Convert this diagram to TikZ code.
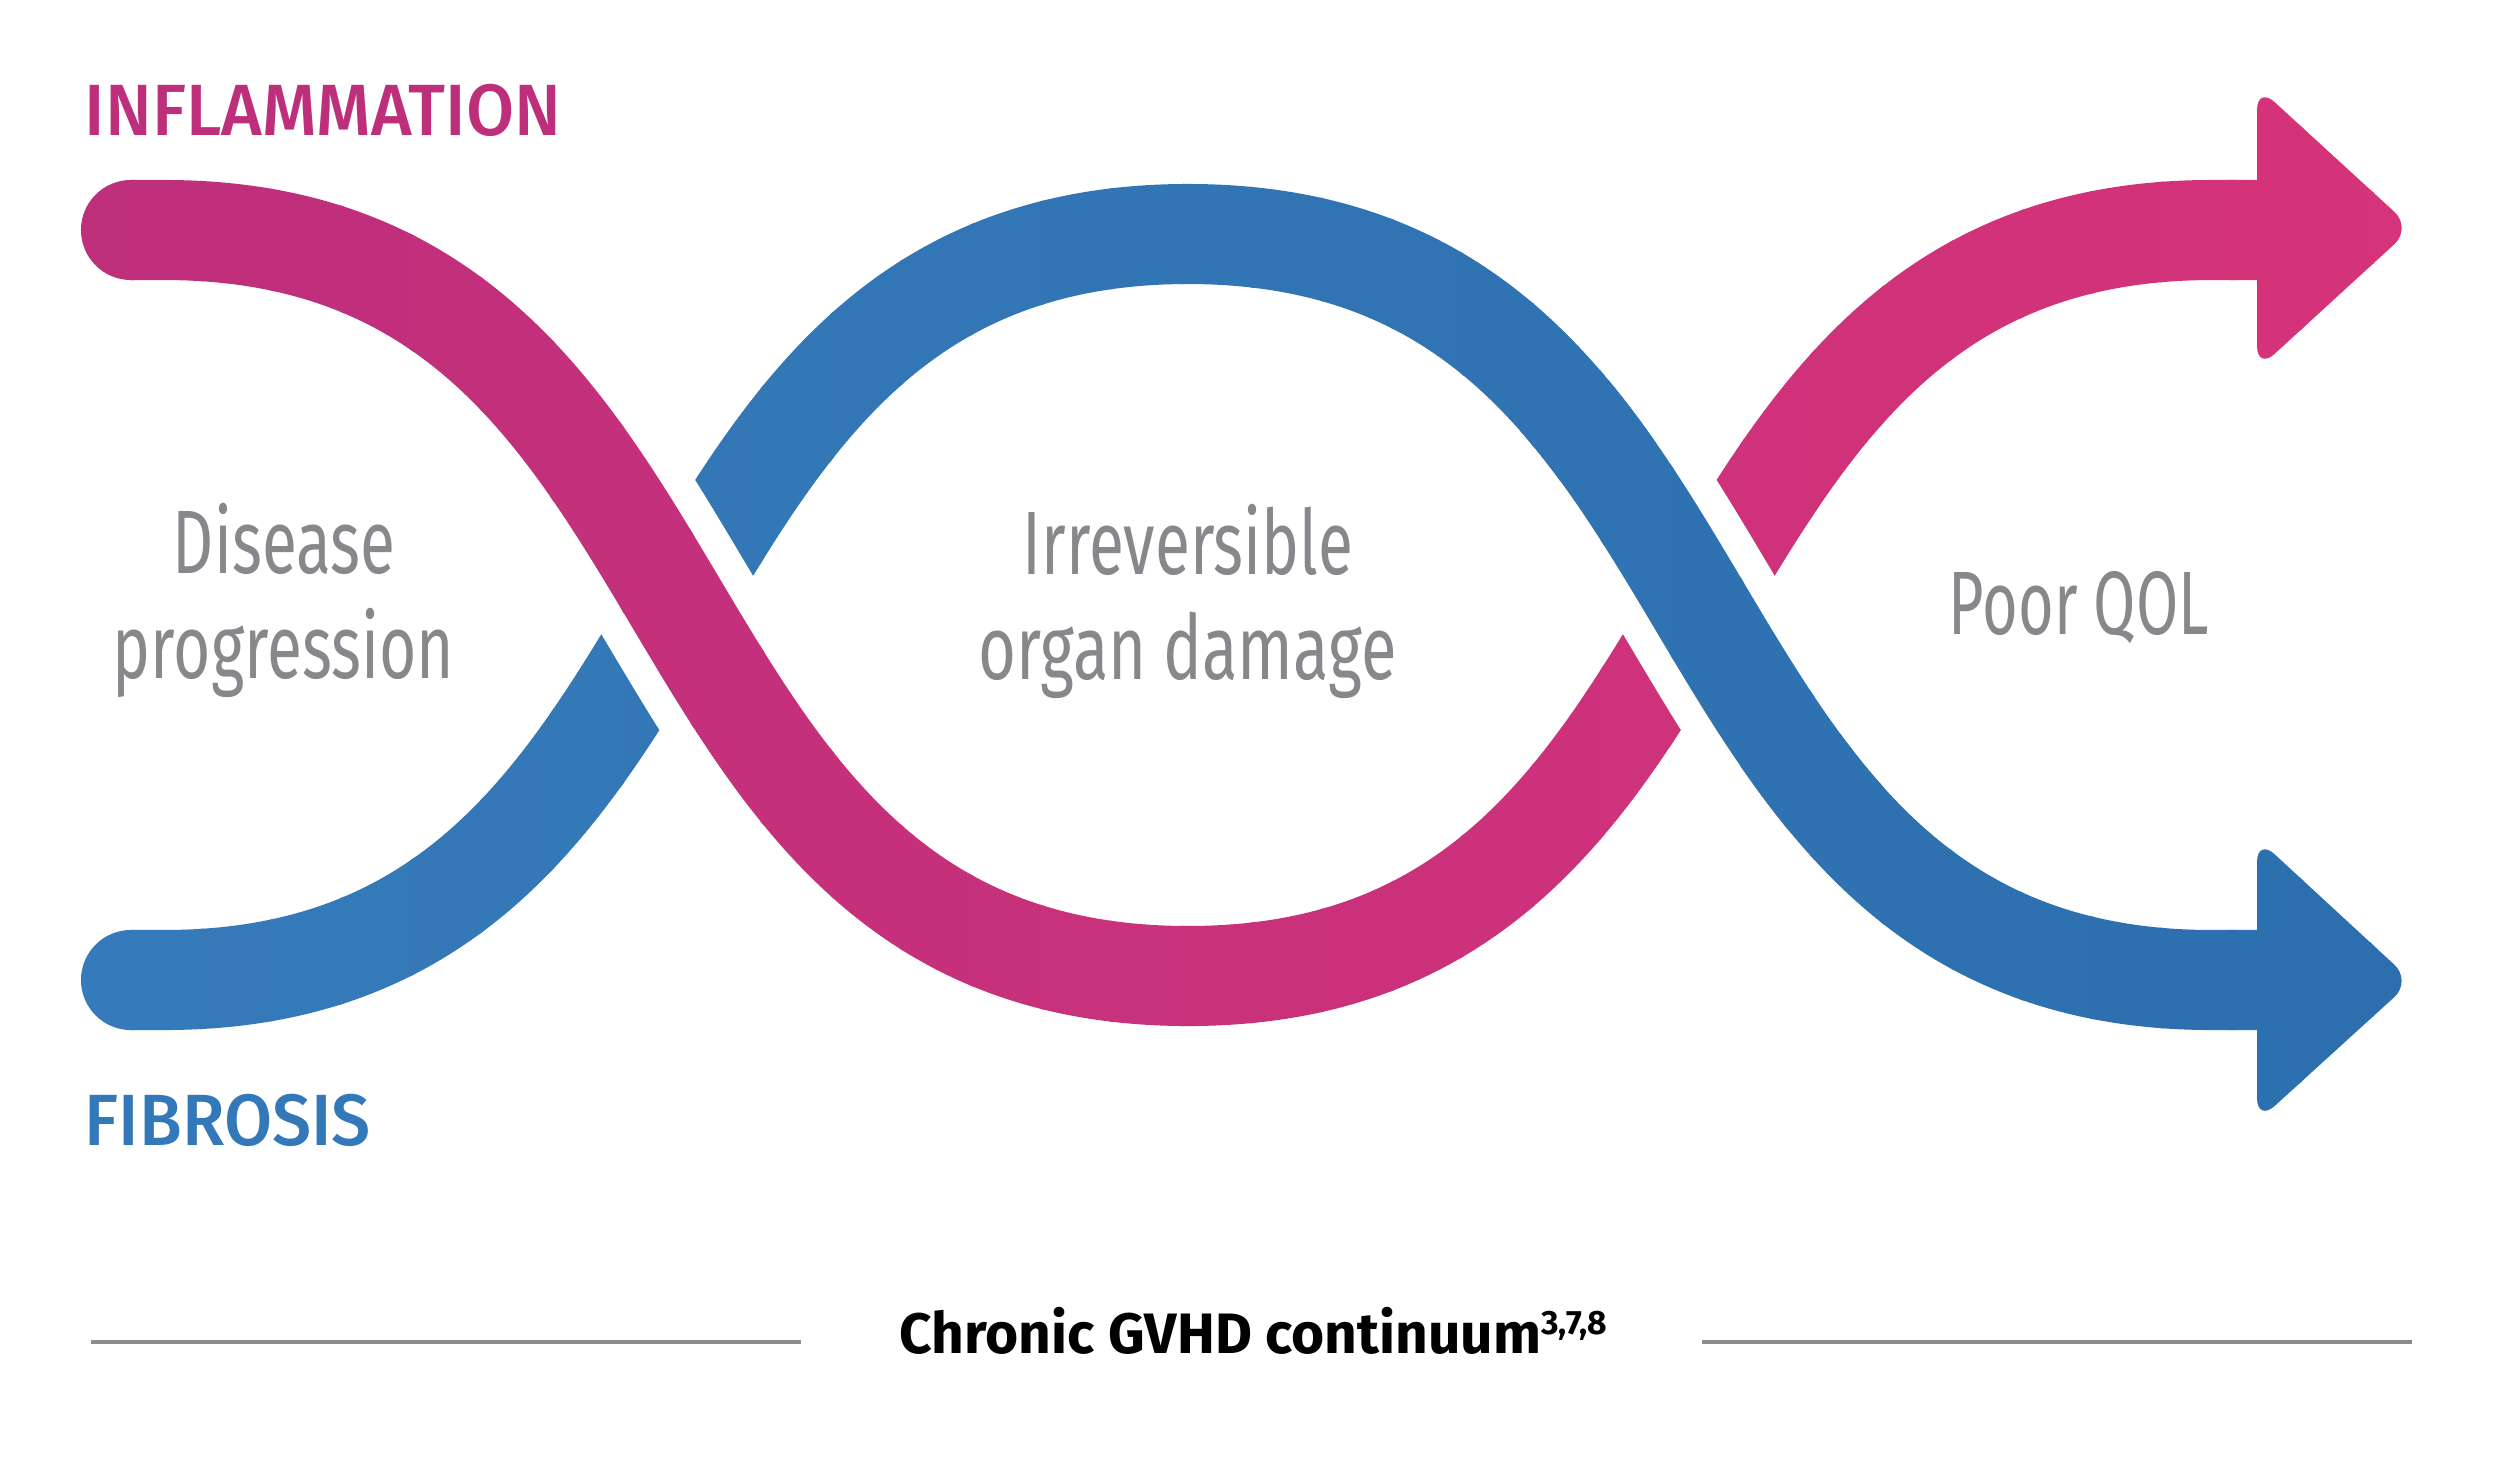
\documentclass[tikz,border=0pt]{standalone}
\usepackage{fontspec}
\setmainfont{Fira Sans}
\newfontfamily\medfont{Fira Sans Medium}
\usepackage{graphicx}
\definecolor{pinkL}{HTML}{BE2F7C}
\definecolor{pinkR}{HTML}{D5337A}
\definecolor{blueL}{HTML}{357ABA}
\definecolor{blueR}{HTML}{2D6FAE}
\definecolor{txtgray}{HTML}{87888C}
\definecolor{rulegray}{HTML}{8C8C8C}
\definecolor{inflam}{HTML}{BE2F7B}
\definecolor{fibro}{HTML}{3378B8}
\newcommand{\pinkband}{(131,230) -- (164,230) .. controls (744,230) and (608,976) .. (1188,976) .. controls (1768,976) and (1632,230) .. (2212,230) -- (2262,230)}
\newcommand{\blueband}{(131,980) -- (164,980) .. controls (744,980) and (608,234) .. (1188,234) .. controls (1768,234) and (1632,980) .. (2212,980) -- (2262,980)}
\newcommand{\pinkhead}{(2257,86) -- (2412,228) -- (2257,370) -- cycle}
\newcommand{\bluehead}{(2257,838) -- (2412,981) -- (2257,1122) -- cycle}
\newcommand{\bandstrips}[4]{%
  \foreach \i in {0,...,33}{%
    \pgfmathsetmacro{\xa}{60+70*\i}%
    \pgfmathsetmacro{\xb}{\xa+74}%
    \pgfmathsetmacro{\pc}{max(0,min(100,(\xa+35-80)/23.23))}%
    \begin{scope}
      \clip (\xa,-10) rectangle (\xb,1480);
      \colorlet{stripc}{#4!\pc!#3}
      \fill[stripc, rounded corners=0.24cm] #2;
      \draw[stripc, line width=1cm, line cap=round] #1;
    \end{scope}
  }}
\begin{document}
\begin{tikzpicture}[x=0.01cm, y=-0.01cm,
  graytxt/.style={text=txtgray, inner sep=0pt, anchor=base, font=\fontsize{25.6}{30}\selectfont},
  headtxt/.style={inner sep=0pt, anchor=base west, font=\medfont\fontsize{20.65}{24}\selectfont},
  gapline/.style={white, line width=1.6cm, line cap=round}]
\fill[white] (0,0) rectangle (2518,1466);
\useasboundingbox (0,0) rectangle (2518,1466);
% blue band (fibrosis), underneath at left crossing
\bandstrips{\blueband}{\bluehead}{blueL}{blueR}
% pink band (inflammation) with white gap
\draw[gapline] \pinkband;
\bandstrips{\pinkband}{\pinkhead}{pinkL}{pinkR}
% blue over pink at right crossing
\begin{scope}
  \clip (1560,440) rectangle (1840,770);
  \draw[gapline] \blueband;
\end{scope}
\begin{scope}
  \clip (1520,380) rectangle (1880,830);
  \bandstrips{\blueband}{\bluehead}{blueL}{blueR}
\end{scope}
% labels
\node[headtxt, text=inflam] (inf) at (84,135) {\resizebox{4.76cm}{\height}{INFLAMMATION}};
\node[headtxt, text=fibro] (fib) at (84,1145) {\resizebox{2.86cm}{\height}{FIBROSIS}};
\node[graytxt] (dis1) at (284,573) {\resizebox{2.22cm}{\height}{Disease}};
\node[graytxt] (dis2) at (283.5,678) {\resizebox{3.41cm}{\height}{progression}};
\node[graytxt] (irr1) at (1188,574) {\resizebox{3.30cm}{\height}{Irreversible}};
\node[graytxt] (irr2) at (1187.5,679) {\resizebox{4.18cm}{\height}{organ damage}};
\node[graytxt] (qol) at (2079,634) {\resizebox{2.60cm}{\height}{Poor QOL}};
\node[inner sep=0pt, anchor=base, font=\bfseries\fontsize{16.2}{18}\selectfont] (cap) at (1253.5,1353)
  {\resizebox{7.07cm}{\height}{Chronic GVHD continuum\raisebox{5.4pt}{\fontsize{9.6}{10}\selectfont 3,7,8}}};
\coordinate (la) at (91,1342);
\coordinate (lb) at (801,1342);
\coordinate (ra) at (1702,1342);
\coordinate (rb) at (2412,1342);
\draw[rulegray, line width=0.04cm] (la) -- (lb);
\draw[rulegray, line width=0.04cm] (ra) -- (rb);
\end{tikzpicture}
\end{document}
